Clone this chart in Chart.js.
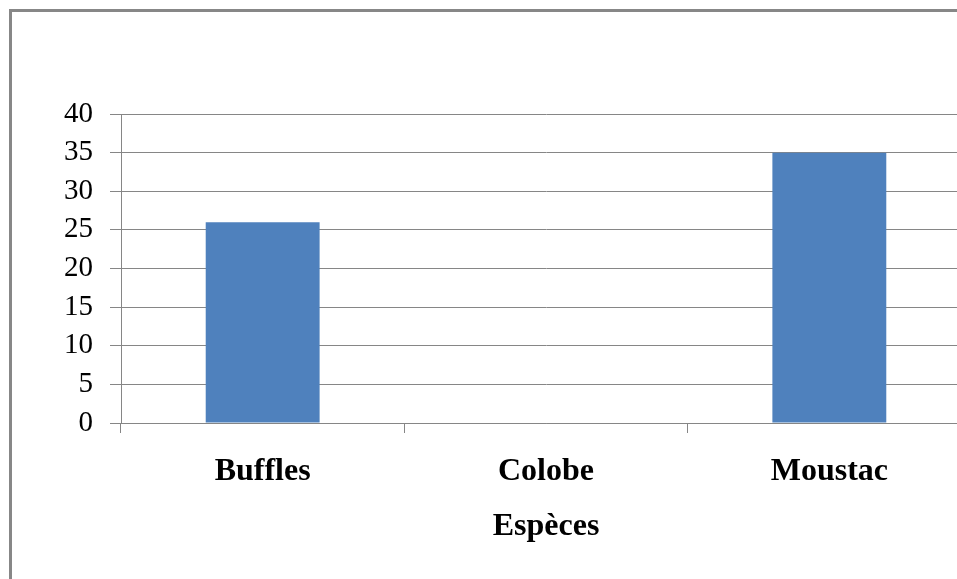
<!DOCTYPE html>
<html lang="fr">

<head>
    <meta charset="UTF-8">
    <title>Espèces</title>
    <style>
        html,
        body {
            margin: 0;
            padding: 0;
            background: #fff;
            overflow: hidden;
        }

        #frame {
            position: absolute;
            left: 9px;
            top: 9px;
            width: 1000px;
            height: 620px;
            border: 3px solid #878787;
            box-sizing: border-box;
        }

        #wrap {
            position: absolute;
            left: 0;
            top: 0;
            width: 990px;
            height: 579px;
        }
    </style>
</head>

<body>
    <div id="frame"></div>
    <div id="wrap"><canvas id="myChart"></canvas></div>
    <script src="https://cdn.jsdelivr.net/npm/chart.js"></script>
    <script>
        const especes = ['Buffles', 'Colobe', 'Moustac'];
        const effectifs = [26, 0, 35];
        const yTicks = [0, 5, 10, 15, 20, 25, 30, 35, 40];

        const gridColor = '#868686';
        const serif = "'Liberation Serif', 'Times New Roman', serif";

        const data = {
            labels: especes,
            datasets: [{
                label: 'Effectif',
                data: effectifs,
                backgroundColor: '#4f81bd',
                borderWidth: 0,
                categoryPercentage: 1,
                barPercentage: 0.402
            }]
        };

        const config = {
            type: 'bar',
            data: data,
            options: {
                responsive: true,
                maintainAspectRatio: false,
                animation: false,
                layout: {
                    padding: { top: 114, right: 19, bottom: 0, left: 0 }
                },
                plugins: {
                    legend: { display: false },
                    tooltip: { enabled: false }
                },
                scales: {
                    x: {
                        grid: {
                            offset: true,
                            drawOnChartArea: false,
                            color: gridColor,
                            tickLength: 10
                        },
                        border: { color: gridColor },
                        ticks: {
                            color: '#000',
                            padding: 20,
                            font: { family: serif, size: 32, weight: 'bold' }
                        },
                        title: {
                            display: true,
                            text: 'Espèces',
                            color: '#000',
                            padding: { top: 0, bottom: 33 },
                            font: { family: serif, size: 32, weight: 'bold' }
                        },
                        afterFit: (scale) => { scale.height = 156; }
                    },
                    y: {
                        min: 0,
                        max: 40,
                        afterBuildTicks: (scale) => {
                            scale.ticks = yTicks.map(v => ({ value: v }));
                        },
                        grid: {
                            color: gridColor,
                            tickLength: 11
                        },
                        border: { color: gridColor },
                        ticks: {
                            color: '#000',
                            padding: 17,
                            font: { family: serif, size: 29 }
                        },
                        afterFit: (scale) => { scale.width = 121; }
                    }
                }
            }
        };

        new Chart(document.getElementById('myChart'), config);
    </script>
</body>

</html>
